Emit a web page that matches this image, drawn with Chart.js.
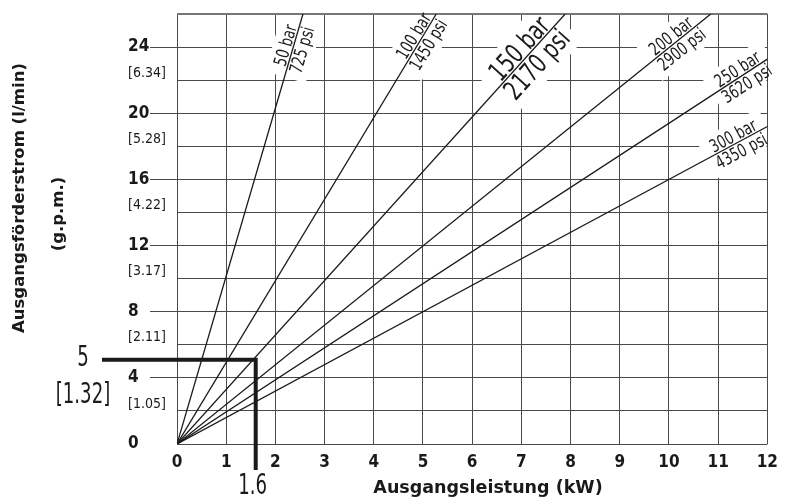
<!DOCTYPE html>
<html><head><meta charset="utf-8">
<script src="https://cdn.jsdelivr.net/npm/chart.js@4.4.1/dist/chart.umd.min.js"></script>
<style>html,body{margin:0;padding:0;background:#fff;} #wrap{width:786px;height:501px;position:relative;}</style>
</head><body><div id="wrap"><canvas id="c" width="786" height="501"></canvas></div>
<script>
// ---- data ----
const pressureBar = [50, 100, 150, 200, 250, 300];
const pressurePsi = [725, 1450, 2170, 2900, 3620, 4350];
const endPower = [2.56, 5.27, 7.89, 10.85, 12, 12];     // kW where each line leaves the grid
const endFlow  = [26, 26, 26, 26, 23.27, 19.2];          // l/min at that point
const labelPower = [2.36, 4.95, 7.12, 10.14, 11.48, 11.38]; // kW where each label sits on its line
const flowTicks = [0, 4, 8, 12, 16, 20, 24];
const gpmTicks  = ['', '[1.05]', '[2.11]', '[3.17]', '[4.22]', '[5.28]', '[6.34]'];
const powerTicks = [0, 1, 2, 3, 4, 5, 6, 7, 8, 9, 10, 11, 12];
const markerPower = 1.6;
const markerFlow = 5.1;
const markerPowerLabel = '1.6';
const markerFlowLabel = '5';
const markerGpmLabel = '[1.32]';
const yTitle1 = 'Ausgangsförderstrom (l/min)';
const yTitle2 = '(g.p.m.)';
const xTitle = 'Ausgangsleistung (kW)';

// ---- style ----
const NARROW = "'DejaVu Sans Condensed','DejaVu Sans',sans-serif";
const TITLEF = "'DejaVu Sans',sans-serif";
const INK = '#1a1a1a';
const GRID = '#4a4a4a';
const bigLabel = 2; // index of the emphasised pressure label

const datasets = pressureBar.map((p, i) => ({
  label: p + ' bar',
  data: [{x: 0, y: 0}, {x: endPower[i], y: endFlow[i]}],
  borderColor: INK,
  borderWidth: 1.3,
  pointRadius: 0,
  showLine: true,
  fill: false
}));

function labelGeom(chart, i) {
  const xs = chart.scales.x, ys = chart.scales.y;
  const x0 = xs.getPixelForValue(0), y0 = ys.getPixelForValue(0);
  const x1 = xs.getPixelForValue(endPower[i]), y1 = ys.getPixelForValue(endFlow[i]);
  const ang = Math.atan2(y1 - y0, x1 - x0);
  const p = labelPower[i];
  const q = endFlow[i] / endPower[i] * p;
  return {cx: xs.getPixelForValue(p), cy: ys.getPixelForValue(q), ang};
}
function labelSize(i) { return i === bigLabel ? 27 : 18; }
const SQ = 0.8; // horizontal squeeze for condensed look

function narrowText(ctx, text, x, y, sq) {
  ctx.save();
  ctx.translate(x, y);
  ctx.scale(sq, 1);
  ctx.fillText(text, 0, 0);
  ctx.restore();
}

const decor = {
  id: 'decor',
  beforeDatasetsDraw(chart) {
    const ctx = chart.ctx, a = chart.chartArea;
    ctx.save();
    ctx.beginPath();
    ctx.rect(a.left + 1, a.top + 1.5, a.right - a.left - 2, a.bottom - a.top - 2);
    ctx.clip();
    pressureBar.forEach((p, i) => {
      const g = labelGeom(chart, i), s = labelSize(i);
      ctx.save();
      ctx.translate(g.cx, g.cy);
      ctx.rotate(g.ang);
      ctx.font = s + 'px ' + NARROW;
      const w = SQ * Math.max(ctx.measureText(p + ' bar').width, ctx.measureText(pressurePsi[i] + ' psi').width);
      ctx.fillStyle = '#fff';
      ctx.fillRect(-w / 2 - 7, -s * 0.85 - 5, w + 14, s * 1.85 + 9);
      ctx.restore();
    });
    ctx.restore();
  },
  afterDatasetsDraw(chart) {
    const ctx = chart.ctx, a = chart.chartArea;
    const xs = chart.scales.x, ys = chart.scales.y;
    ctx.save();
    ctx.fillStyle = INK;
    // pressure labels
    pressureBar.forEach((p, i) => {
      const g = labelGeom(chart, i), s = labelSize(i);
      ctx.save();
      ctx.translate(g.cx, g.cy);
      ctx.rotate(g.ang);
      ctx.font = s + 'px ' + NARROW;
      ctx.textAlign = 'center';
      ctx.textBaseline = 'alphabetic';
      narrowText(ctx, p + ' bar', 0, -2, SQ);
      narrowText(ctx, pressurePsi[i] + ' psi', 0, 2 + s * 0.73, SQ);
      ctx.restore();
    });
    // marker
    const px = xs.getPixelForValue(markerPower), py = ys.getPixelForValue(markerFlow);
    ctx.strokeStyle = INK;
    ctx.lineWidth = 4;
    ctx.lineJoin = 'miter';
    ctx.beginPath();
    ctx.moveTo(a.left - 75, py);
    ctx.lineTo(px, py);
    ctx.lineTo(px, a.bottom + 26);
    ctx.stroke();
    ctx.font = '28px ' + NARROW;
    ctx.textAlign = 'center';
    ctx.textBaseline = 'middle';
    narrowText(ctx, markerFlowLabel, a.left - 94, py - 1, 0.72);
    narrowText(ctx, markerGpmLabel, a.left - 94, py + 36, 0.72);
    narrowText(ctx, markerPowerLabel, px - 3, a.bottom + 43, 0.72);
    // titles
    ctx.font = 'bold 16.5px ' + TITLEF;
    ctx.save(); ctx.translate(20, 198); ctx.rotate(-Math.PI / 2); ctx.fillText(yTitle1, 0, 0); ctx.restore();
    ctx.save(); ctx.translate(59, 214); ctx.rotate(-Math.PI / 2); ctx.fillText(yTitle2, 0, 0); ctx.restore();
    ctx.font = 'bold 17.5px ' + TITLEF;
    ctx.fillText(xTitle, 488, 488);
    ctx.restore();
  }
};

new Chart(document.getElementById('c'), {
  type: 'scatter',
  data: {datasets},
  plugins: [decor],
  options: {
    responsive: false,
    animation: false,
    devicePixelRatio: 1,
    layout: {padding: {left: 128, top: 14, right: 13, bottom: 0}},
    plugins: {legend: {display: false}, tooltip: {enabled: false}},
    scales: {
      x: {
        type: 'linear', min: 0, max: 12,
        afterFit(s) { s.height = 57; },
        afterBuildTicks(s) { s.ticks = powerTicks.map(v => ({value: v})); },
        border: {display: false},
        grid: {color: GRID, lineWidth: 1, drawTicks: false},
        ticks: {
          autoSkip: false, maxRotation: 0, padding: 8, color: INK,
          font: {family: NARROW, size: 17, weight: 'bold'},
          callback: v => String(v)
        }
      },
      y: {
        type: 'linear', min: 0, max: 26,
        afterFit(s) { s.width = 49; },
        border: {display: false},
        grid: {
          color: c => (c.tick && c.tick.value === 26) ? '#777' : GRID,
          lineWidth: c => (c.tick && c.tick.value === 26) ? 2 : 1,
          tickLength: 27,
          tickColor: c => (c.tick && flowTicks.includes(c.tick.value) && c.tick.value > 0) ? GRID : 'rgba(0,0,0,0)'
        },
        ticks: {
          stepSize: 2, autoSkip: false, crossAlign: 'far', color: INK,
          font: c => (c.tick && flowTicks.includes(c.tick.value))
            ? {family: NARROW, size: 17, weight: 'bold'}
            : {family: NARROW, size: 14, lineHeight: 1.0},
          callback: v => {
            if (flowTicks.includes(v)) return String(v);
            const k = flowTicks.indexOf(v + 2);
            if (k > 0) return [gpmTicks[k], ''];
            return '';
          }
        }
      }
    }
  }
});
</script>
</body></html>
